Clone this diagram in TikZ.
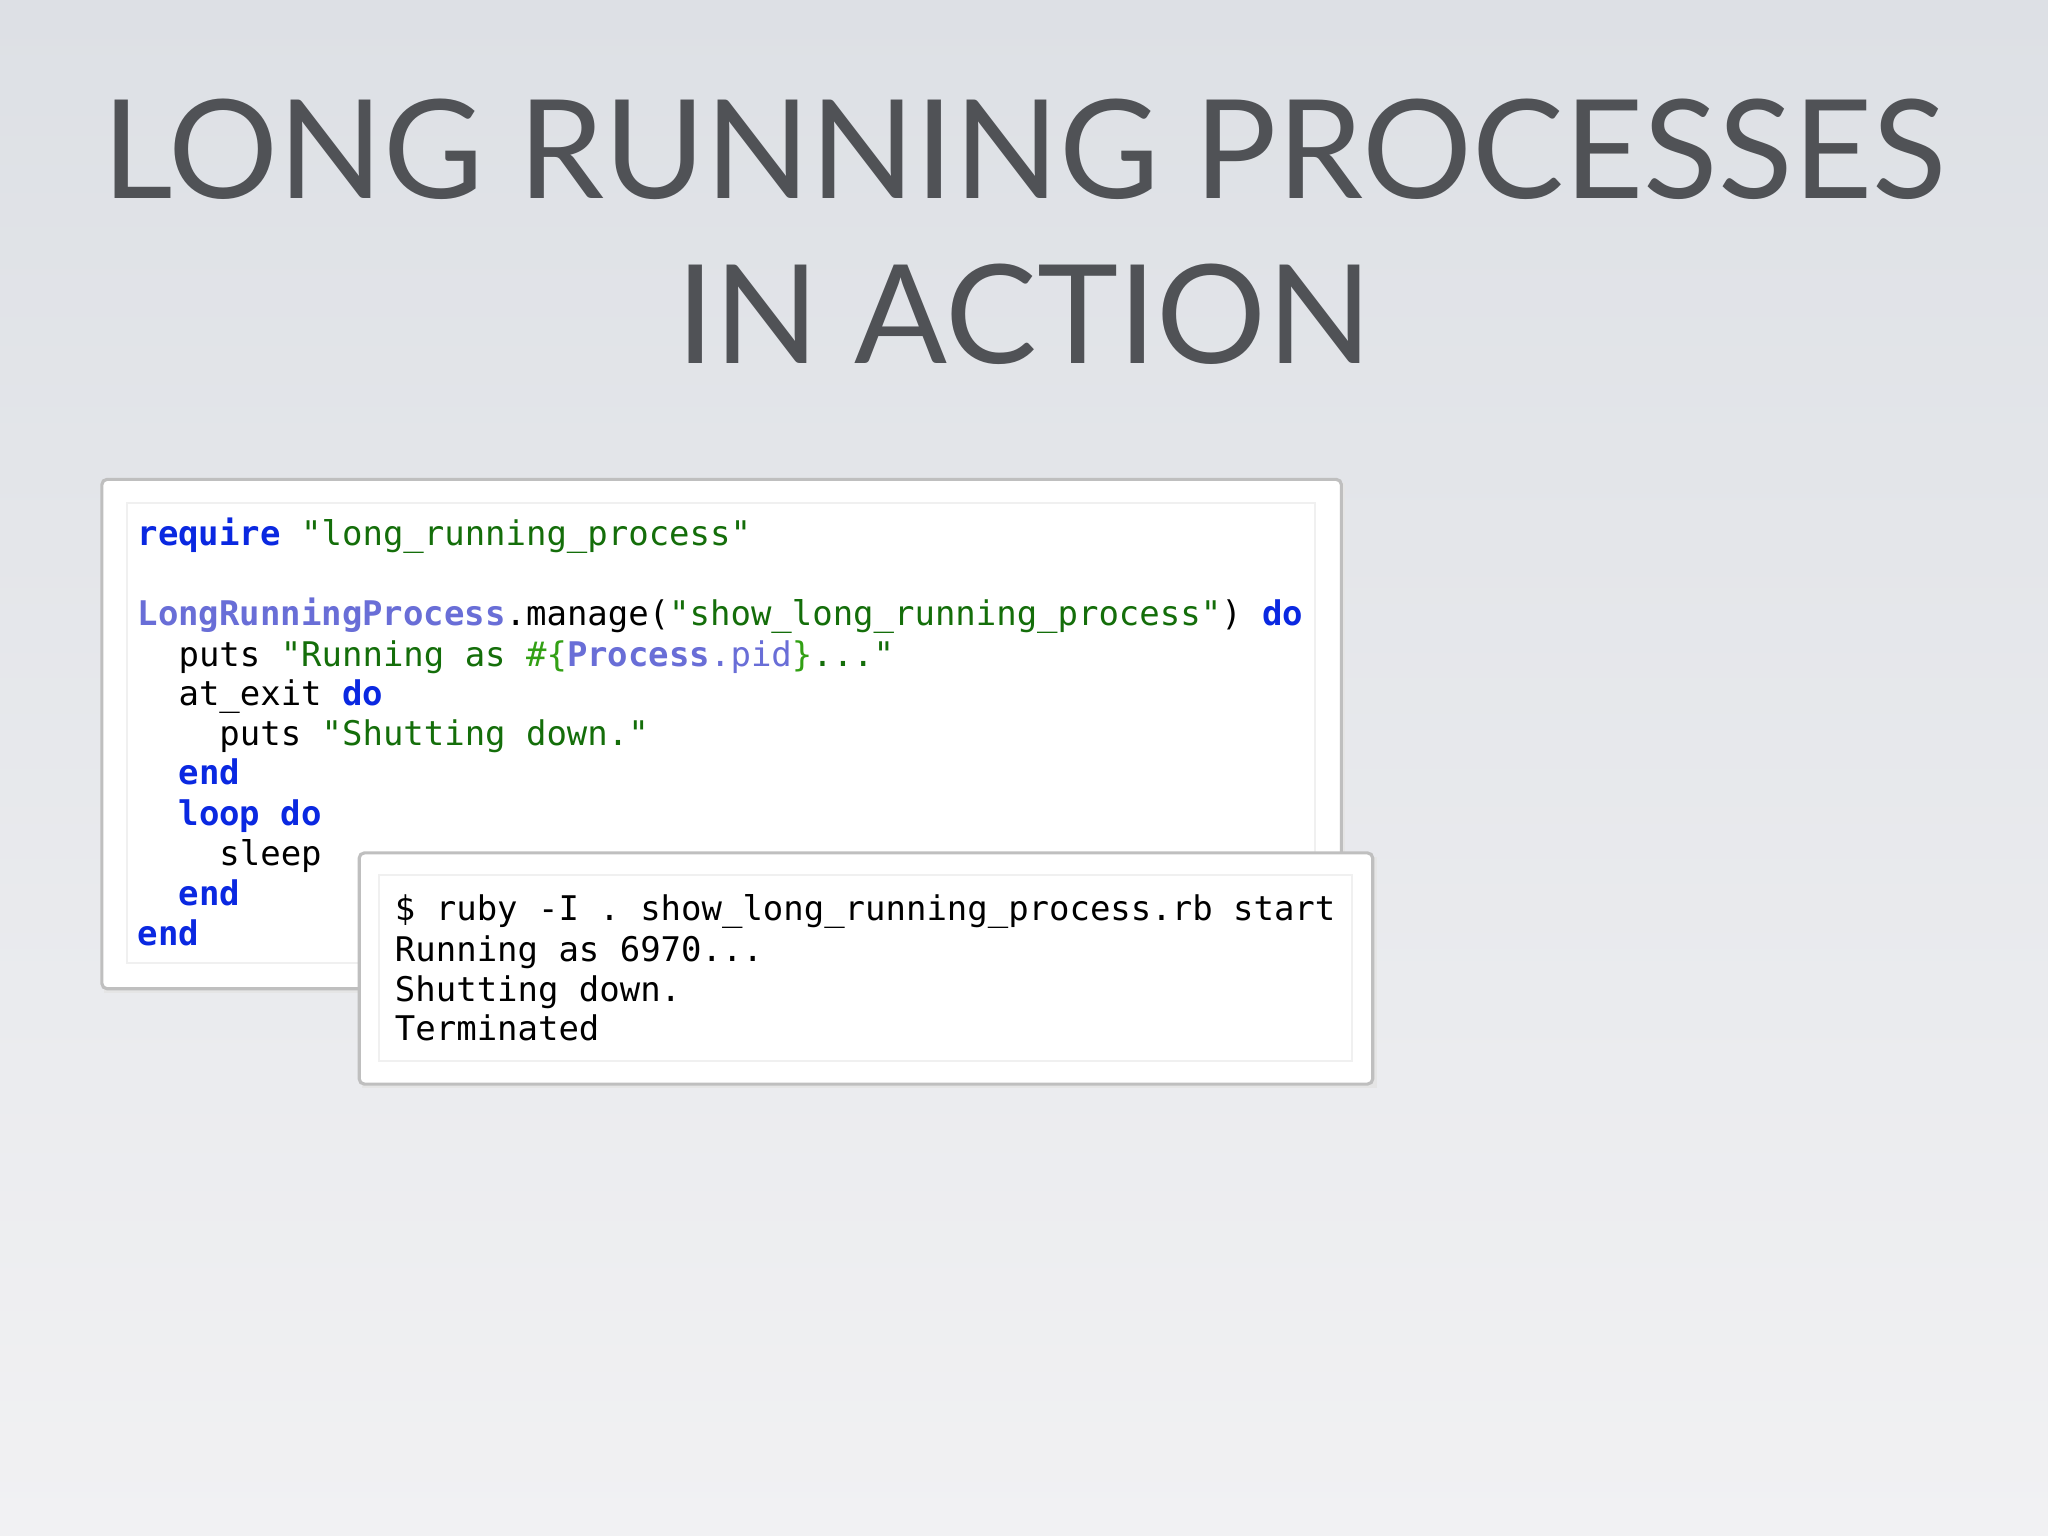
\documentclass[tikz,border=0pt]{standalone}
\usepackage{fontspec}
\setmainfont{Lato}
\setmonofont{DejaVu Sans Mono}
\definecolor{kw}{RGB}{10,40,225}
\definecolor{str}{RGB}{20,110,10}
\definecolor{cst}{RGB}{105,110,215}
\definecolor{intp}{RGB}{50,160,20}
\definecolor{bgtop}{RGB}{221,224,229}
\definecolor{bgbot}{RGB}{241,241,243}
\definecolor{ttl}{RGB}{80,82,86}
\newcommand{\kw}[1]{\textcolor{kw}{\textbf{#1}}}
\newcommand{\st}[1]{\textcolor{str}{#1}}
\newcommand{\cs}[1]{\textcolor{cst}{\textbf{#1}}}
\begin{document}
\begin{tikzpicture}[x=0.5pt,y=-0.5pt,
  codeline/.style={anchor=base west,inner sep=0pt,font=\fontsize{13pt}{15pt}\ttfamily},
  title/.style={font=\fontsize{52.6pt}{60pt}\selectfont,text=ttl,inner sep=0pt,anchor=base},
  panel/.style={draw=black!25,line width=1.2pt,fill=white,rounded corners=2pt},
  inner/.style={draw=black!6,line width=0.8pt,fill=white}]
\shade[top color=bgtop,bottom color=bgbot] (0,0) rectangle (1568,1176);
\useasboundingbox (0,0) rectangle (1568,1176);
\node[title] (t1) at (784,152) {LONG RUNNING PROCESSES};
\node[title] (t2) at (784,278) {IN ACTION};
% code panel
\fill[black!10] (80,370) rectangle (1030,760);
\draw[panel] (78,367) rectangle (1027,757);
\draw[inner] (97,385) rectangle (1007,737);
\node[codeline] (c0) at (105,418) {\kw{require} \st{"long\_running\_process"}};
\node[codeline] (c2) at (105,479) {\cs{LongRunningProcess}.manage(\st{"show\_long\_running\_process"}) \kw{do}};
\node[codeline] (c3) at (105,510) {\phantom{xx}puts \st{"Running as \textcolor{intp}{\#\{}\cs{Process}\textcolor{cst}{.pid}\textcolor{intp}{\}}..."}};
\node[codeline] (c4) at (105,540) {\phantom{xx}at\_exit \kw{do}};
\node[codeline] (c5) at (105,571) {\phantom{xxxx}puts \st{"Shutting down."}};
\node[codeline] (c6) at (105,601) {\phantom{xx}\kw{end}};
\node[codeline] (c7) at (105,632) {\phantom{xx}\kw{loop do}};
\node[codeline] (c8) at (105,663) {\phantom{xxxx}sleep};
\node[codeline] (c9) at (105,693) {\phantom{xx}\kw{end}};
\node[codeline] (c10) at (105,724) {\kw{end}};
% terminal panel
\fill[black!10] (277,656) rectangle (1054,833);
\draw[panel] (275,653) rectangle (1051,830);
\draw[inner] (290,670) rectangle (1035,812);
\node[codeline] (r0) at (302,705) {\$ ruby -I . show\_long\_running\_process.rb start};
\node[codeline] (r1) at (302,736) {Running as 6970...};
\node[codeline] (r2) at (302,767) {Shutting down.};
\node[codeline] (r3) at (302,797) {Terminated};
\end{tikzpicture}
\end{document}
